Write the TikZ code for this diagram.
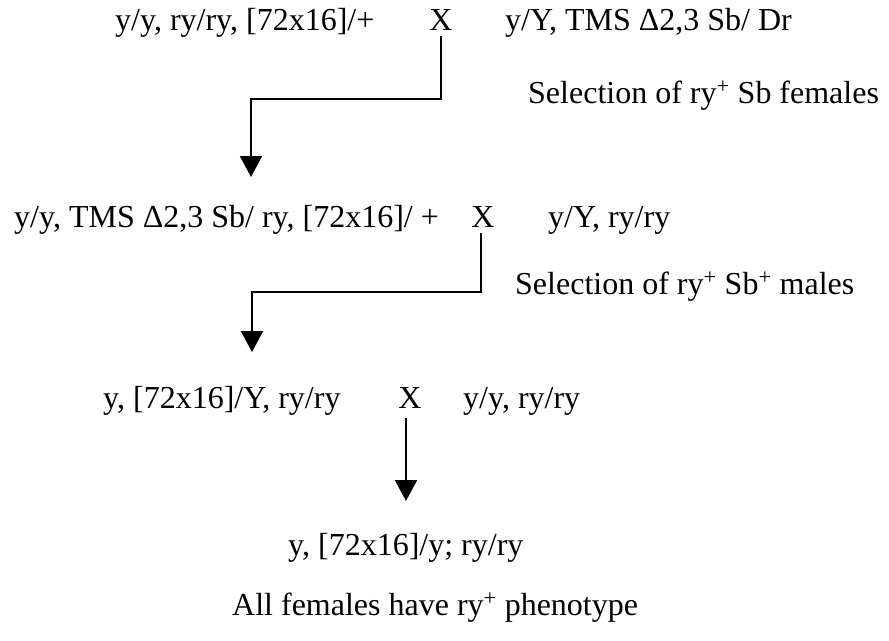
\documentclass[tikz,border=0pt]{standalone}
\usepackage{fontspec}
\setmainfont{Liberation Serif}
\usetikzlibrary{arrows.meta}
\begin{document}
\begin{tikzpicture}[x=1pt,y=-1pt,
  txt/.style={inner sep=0pt,anchor=base west,font=\fontsize{32}{36}\selectfont},
  crossx/.style={inner sep=0pt,anchor=base,font=\fontsize{32}{36}\selectfont},
  arr/.style={line width=2pt,-{Triangle[width=22pt,length=21pt]}}]
\useasboundingbox (0,0) rectangle (889,640);
% row 1
\node[txt] (p1a) at (115,30) {y/y, ry/ry, [72x16]/+};
\node[crossx] (x1) at (441,30) {X};
\node[txt] (p1b) at (505,30) {y/Y, TMS Δ2,3 Sb/ Dr};
\node[txt] (s1) at (528,103) {Selection of ry\textsuperscript{+} Sb females};
% row 2
\node[txt] (p2a) at (14,227) {y/y, TMS Δ2,3 Sb/ ry, [72x16]/ +};
\node[crossx] (x2) at (483,227) {X};
\node[txt] (p2b) at (548,227) {y/Y, ry/ry};
\node[txt] (s2) at (515,294) {Selection of ry\textsuperscript{+} Sb\textsuperscript{+} males};
% row 3
\node[txt] (p3a) at (103,408) {y, [72x16]/Y, ry/ry};
\node[crossx] (x3) at (410,408) {X};
\node[txt] (p3b) at (463,408) {y/y, ry/ry};
% row 4,5
\node[txt] (p4) at (288,555) {y, [72x16]/y; ry/ry};
\node[txt] (p5) at (232,615) {All females have ry\textsuperscript{+} phenotype};
% connectors
\coordinate (c1) at (441,99);
\coordinate (c1b) at (251,99);
\coordinate (t1) at (251,177);
\draw[arr] (x1.south) ++(0,6) -- (c1) -- (c1b) -- (t1);
\coordinate (c2) at (481,292);
\coordinate (c2b) at (252,292);
\coordinate (t2) at (252,352);
\draw[arr] (x2.south) ++(-2,6) -- (c2) -- (c2b) -- (t2);
\coordinate (t3) at (406,501);
\draw[arr] (x3.south) ++(-4,10) -- (t3);
\end{tikzpicture}
\end{document}
